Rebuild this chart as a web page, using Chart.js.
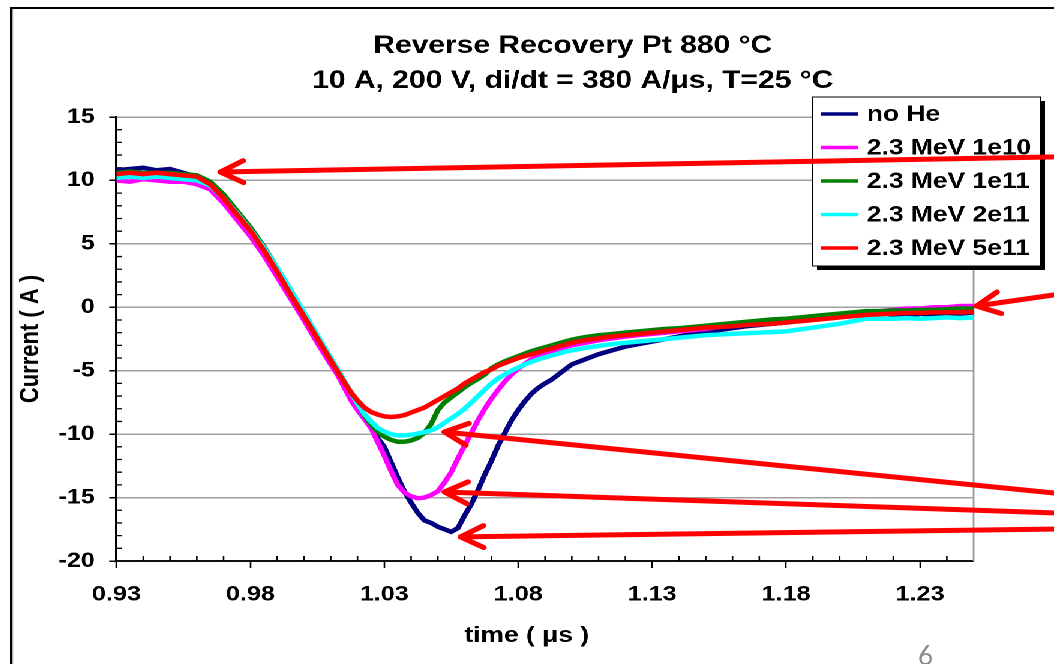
<!DOCTYPE html>
<html>
<head>
<meta charset="utf-8">
<script src="https://cdn.jsdelivr.net/npm/chart.js@4.4.0/dist/chart.umd.min.js"></script>
<style>
  html, body { margin: 0; padding: 0; width: 1054px; height: 664px; overflow: hidden; background: #fff; }
  /* the slide graphic is stretched sideways, so draw narrow and scale */
  #frame {
    position: absolute; left: 10px; top: 7px;
    border-left: 2.5px solid #000; border-top: 2px solid #000;
    transform: scaleX(1.2); transform-origin: 0 0;
  }
  #box { position: relative; width: 934px; height: 655px; }
  #page { position: absolute; left: 918px; top: 642px; font: 26px Lato, sans-serif; line-height: 1; color: #8a8a8a; }
</style>
</head>
<body>
<div id="frame"><div id="box"><canvas id="chart1"></canvas></div></div>
<div id="page">6</div>
<script>
const time = [
  0.930, 0.935, 0.940, 0.945, 0.950, 0.955, 0.960, 0.965, 0.970, 0.975,
  0.980, 0.985, 0.990, 0.995, 1.000, 1.005, 1.010,
  1.0125, 1.015, 1.0175, 1.020, 1.0225, 1.025, 1.0275, 1.030, 1.0325, 1.035,
  1.0375, 1.040, 1.0425, 1.045, 1.0475, 1.050, 1.0525, 1.055, 1.0575, 1.060,
  1.0625, 1.065, 1.0675, 1.070, 1.0725, 1.075, 1.0775, 1.080, 1.0825, 1.085,
  1.0875, 1.090, 1.0925, 1.095, 1.0975, 1.100,
  1.105, 1.110, 1.115, 1.120, 1.125, 1.130, 1.135, 1.140, 1.145, 1.150,
  1.155, 1.160, 1.165, 1.170, 1.175, 1.180, 1.185, 1.190, 1.195, 1.200,
  1.205, 1.210, 1.215, 1.220, 1.225, 1.230, 1.235, 1.240, 1.245, 1.250,
];

const noHe = [
  10.8, 10.9, 11.0, 10.8, 10.9, 10.6, 10.3, 9.7, 8.6, 7.2,
  5.9, 4.4, 2.7, 0.9, -0.8, -2.6, -4.4,
  -5.2, -6.2, -7.1, -7.9, -8.7, -9.5, -10.3, -11.0, -12.2, -13.4,
  -14.5, -15.4, -16.2, -16.8, -17.0, -17.3, -17.5, -17.7, -17.4, -16.4,
  -15.5, -14.4, -13.2, -12.1, -10.9, -9.9, -8.9, -8.1, -7.4, -6.8,
  -6.35, -6.0, -5.7, -5.3, -4.9, -4.5,
  -4.1, -3.7, -3.4, -3.1, -2.9, -2.7, -2.5, -2.3, -2.1, -1.95,
  -1.8, -1.65, -1.5, -1.4, -1.3, -1.2, -1.05, -0.9, -0.8, -0.7,
  -0.5, -0.3, -0.4, -0.6, -0.8, -0.5, -0.6, -0.5, -0.5, -0.4,
];

const mev1e10 = [
  10.0, 9.9, 10.1, 10.0, 9.9, 9.9, 9.7, 9.3, 8.2, 6.9,
  5.6, 4.1, 2.4, 0.7, -1.0, -2.8, -4.5,
  -5.3, -6.3, -7.3, -8.1, -8.8, -9.5, -10.6, -11.7, -12.9, -14.0,
  -14.6, -14.9, -15.05, -15.0, -14.8, -14.5, -13.8, -13.0, -11.9, -10.9,
  -9.9, -8.9, -8.0, -7.2, -6.5, -5.85, -5.3, -4.85, -4.45, -4.1,
  -3.85, -3.65, -3.45, -3.3, -3.15, -3.0,
  -2.8, -2.6, -2.45, -2.3, -2.2, -2.1, -2.0, -1.9, -1.8, -1.7,
  -1.55, -1.45, -1.3, -1.2, -1.1, -1.0, -0.9, -0.8, -0.7, -0.6,
  -0.5, -0.4, -0.3, -0.2, -0.1, -0.1, 0.0, 0.0, 0.1, 0.1,
];

const mev1e11 = [
  10.6, 10.7, 10.6, 10.6, 10.6, 10.5, 10.4, 9.9, 8.9, 7.6,
  6.3, 4.8, 3.1, 1.3, -0.5, -2.3, -4.0,
  -4.9, -5.8, -6.7, -7.6, -8.5, -9.2, -9.8, -10.2, -10.45, -10.6,
  -10.6, -10.5, -10.3, -9.9, -9.2, -8.1, -7.5, -7.1, -6.7, -6.3,
  -5.95, -5.65, -5.3, -4.8, -4.5, -4.25, -4.05, -3.85, -3.65, -3.45,
  -3.3, -3.15, -3.0, -2.85, -2.7, -2.55,
  -2.35, -2.2, -2.1, -2.0, -1.9, -1.8, -1.7, -1.65, -1.55, -1.45,
  -1.35, -1.25, -1.15, -1.05, -0.95, -0.9, -0.8, -0.7, -0.6, -0.5,
  -0.4, -0.3, -0.3, -0.25, -0.25, -0.2, -0.2, -0.15, -0.1, -0.1,
];

const mev2e11 = [
  10.2, 10.3, 10.2, 10.3, 10.2, 10.1, 10.0, 9.6, 8.6, 7.4,
  6.1, 4.7, 3.1, 1.4, -0.4, -2.2, -4.0,
  -4.9, -5.8, -6.7, -7.6, -8.4, -9.0, -9.5, -9.8, -10.0, -10.1,
  -10.1, -10.05, -9.95, -9.85, -9.7, -9.45, -9.1, -8.75, -8.4, -8.0,
  -7.5, -7.0, -6.5, -6.0, -5.6, -5.3, -5.0, -4.75, -4.5, -4.3,
  -4.1, -3.95, -3.8, -3.65, -3.5, -3.4,
  -3.2, -3.05, -2.9, -2.8, -2.7, -2.6, -2.5, -2.4, -2.3, -2.2,
  -2.15, -2.1, -2.05, -2.0, -1.95, -1.9, -1.75, -1.6, -1.45, -1.3,
  -1.1, -0.9, -0.9, -0.9, -0.85, -0.9, -0.85, -0.8, -0.85, -0.8,
];

const mev5e11 = [
  10.5, 10.6, 10.5, 10.6, 10.5, 10.4, 10.3, 9.7, 8.6, 7.3,
  6.05, 4.5, 2.8, 1.0, -0.7, -2.45, -4.2,
  -5.05, -5.9, -6.7, -7.35, -7.9, -8.25, -8.45, -8.6, -8.65, -8.6,
  -8.5, -8.3, -8.1, -7.9, -7.6, -7.3, -7.0, -6.7, -6.4, -6.0,
  -5.7, -5.4, -5.1, -4.9, -4.6, -4.4, -4.2, -4.0, -3.85, -3.7,
  -3.55, -3.4, -3.25, -3.1, -2.95, -2.8,
  -2.6, -2.45, -2.3, -2.2, -2.1, -2.0, -1.9, -1.8, -1.7, -1.6,
  -1.55, -1.5, -1.4, -1.35, -1.3, -1.2, -1.1, -1.0, -0.9, -0.8,
  -0.7, -0.6, -0.55, -0.5, -0.45, -0.45, -0.4, -0.4, -0.4, -0.35,
];

const xTicks = [0.93, 0.98, 1.03, 1.08, 1.13, 1.18, 1.23];
const yTicks = [-20, -15, -10, -5, 0, 5, 10, 15];

// red callout arrows: [time, current] of the tip and of the far end
const arrowTips = [[0.9688, 10.66], [1.2511, 0.1], [1.0525, -9.83], [1.0525, -14.56], [1.0585, -18.1]];
const arrowTails = [[1.2799, 11.85], [1.2799, 0.97], [1.2799, -14.64], [1.2799, -16.21], [1.2799, -17.48]];

const FONT = '"Liberation Sans", Arial, Helvetica, sans-serif';
Chart.defaults.font.family = FONT;
Chart.defaults.color = "#000";

const series = (label, values, color, order) => ({
    label,
    data: time.map((t, i) => ({ x: t, y: values[i] })),
    borderColor: color,
    backgroundColor: color,
    borderWidth: 4.5,
    pointRadius: 0,
    tension: 0,
    order,
});

const minorTicks = {
    id: "minorTicks",
    beforeDatasetsDraw(chart) {
        const { ctx, chartArea: a, scales: { x, y } } = chart;
        ctx.save();
        ctx.strokeStyle = "#000";
        ctx.lineWidth = 1.3;
        ctx.beginPath();
        for (let v = -20; v <= 15; v++) {
            if (v % 5 === 0) continue;
            const py = y.getPixelForValue(v);
            ctx.moveTo(a.left, py);
            ctx.lineTo(a.left + 4.5, py);
        }
        for (let i = 1; i < 32; i++) {
            if (i % 5 === 0) continue;
            const px = x.getPixelForValue(0.93 + i * 0.01);
            ctx.moveTo(px, a.bottom);
            ctx.lineTo(px, a.bottom - 5);
        }
        ctx.stroke();
        // grey right edge of the plot
        ctx.strokeStyle = "#9a9a9a";
        ctx.lineWidth = 1.4;
        ctx.beginPath();
        ctx.moveTo(a.right, a.top);
        ctx.lineTo(a.right, a.bottom);
        ctx.stroke();
        ctx.restore();
    },
};

const legendBox = {
    id: "legendBox",
    afterDatasetsDraw(chart) {
        const { ctx, chartArea: a } = chart;
        const bx = a.right - 134, by = a.top - 20, w = 190, h = 169;
        ctx.save();
        ctx.fillStyle = "#000";
        ctx.fillRect(bx + 3.5, by + 4, w, h);
        ctx.fillStyle = "#fff";
        ctx.fillRect(bx, by, w, h);
        ctx.strokeStyle = "#000";
        ctx.lineWidth = 1;
        ctx.strokeRect(bx, by, w, h);
        ctx.font = "bold 22px " + FONT;
        ctx.textBaseline = "middle";
        chart.data.datasets.forEach((ds, i) => {
            const cy = by + 17 + i * 33.5;
            ctx.strokeStyle = ds.borderColor;
            ctx.lineWidth = 3.5;
            ctx.beginPath();
            ctx.moveTo(bx + 7, cy);
            ctx.lineTo(bx + 38, cy);
            ctx.stroke();
            ctx.fillStyle = "#000";
            ctx.fillText(ds.label, bx + 45, cy + 1);
        });
        ctx.restore();
    },
};

const arrows = {
    id: "arrows",
    afterDraw(chart) {
        const { ctx, scales: { x, y } } = chart;
        ctx.save();
        ctx.strokeStyle = "#ff0000";
        ctx.lineWidth = 5;
        ctx.lineCap = "round";
        ctx.lineJoin = "round";
        arrowTips.forEach(([tx, ty], i) => {
            const x0 = x.getPixelForValue(tx), y0 = y.getPixelForValue(ty);
            const x1 = x.getPixelForValue(arrowTails[i][0]), y1 = y.getPixelForValue(arrowTails[i][1]);
            const ang = Math.atan2(y1 - y0, x1 - x0);
            ctx.beginPath();
            ctx.moveTo(x0, y0);
            ctx.lineTo(x1 + 60 * Math.cos(ang), y1 + 60 * Math.sin(ang));
            ctx.stroke();
            ctx.beginPath();
            ctx.moveTo(x0 + 22 * Math.cos(ang - 0.52), y0 + 22 * Math.sin(ang - 0.52));
            ctx.lineTo(x0, y0);
            ctx.lineTo(x0 + 22 * Math.cos(ang + 0.52), y0 + 22 * Math.sin(ang + 0.52));
            ctx.stroke();
        });
        ctx.restore();
    },
};

new Chart(document.getElementById("chart1"), {
    type: "line",
    data: {
        datasets: [
            series("no He", noHe, "#000080", 4),
            series("2.3 MeV 1e10", mev1e10, "#ff00ff", 3),
            series("2.3 MeV 1e11", mev1e11, "#008000", 2),
            series("2.3 MeV 2e11", mev2e11, "#00ffff", 1),
            series("2.3 MeV 5e11", mev5e11, "#ff0000", 0),
        ],
    },
    options: {
        responsive: true,
        maintainAspectRatio: false,
        animation: false,
        devicePixelRatio: 2,
        layout: { padding: 0 },
        plugins: {
            legend: { display: false },
            tooltip: { enabled: false },
            title: {
                display: true,
                text: ["Reverse Recovery Pt 880 °C", "10 A, 200 V, di/dt = 380 A/μs, T=25 °C"],
                color: "#000",
                font: { size: 25, weight: "bold", lineHeight: 1.4 },
                padding: { top: 19.5, bottom: 18.5 },
            },
        },
        scales: {
            x: {
                type: "linear",
                min: 0.93,
                max: 1.25,
                afterBuildTicks: (scale) => { scale.ticks = xTicks.map((value) => ({ value })); },
                afterFit: (scale) => { scale.height = 103; },
                grid: { color: "transparent", drawOnChartArea: false, tickColor: "#000", tickLength: 7, tickWidth: 1.3 },
                border: { color: "#111", width: 2 },
                ticks: {
                    autoSkip: false,
                    maxRotation: 0,
                    padding: 14,
                    font: { size: 21, weight: "bold" },
                    callback: (v) => Number(v).toFixed(2),
                },
                title: {
                    display: true,
                    text: "time ( μs )\u00a0\u00a0\u00a0\u00a0\u00a0",
                    font: { size: 22, weight: "bold" },
                    padding: { top: 0, bottom: 15 },
                },
            },
            y: {
                min: -20,
                max: 15,
                afterBuildTicks: (scale) => { scale.ticks = yTicks.map((value) => ({ value })); },
                afterFit: (scale) => { scale.width = 86.7; },
                grid: { color: "#a0a0a0", lineWidth: 1.5, tickColor: "#000", tickLength: 6, tickWidth: 1.5 },
                border: { color: "#000", width: 2 },
                ticks: { autoSkip: false, padding: 12, font: { size: 21, weight: "bold" } },
                title: {
                    display: true,
                    text: "Current ( A )",
                    font: { size: 22, weight: "bold" },
                    padding: { top: 2, bottom: 0 },
                },
            },
            // empty strip to the right of the plot, where the legend sits
            side: {
                position: "right",
                min: 0,
                max: 1,
                afterFit: (scale) => { scale.width = 133; },
                grid: { display: false, drawTicks: false },
                border: { display: false },
                ticks: { display: false },
            },
        },
    },
    plugins: [minorTicks, legendBox, arrows],
});
</script>
</body>
</html>
